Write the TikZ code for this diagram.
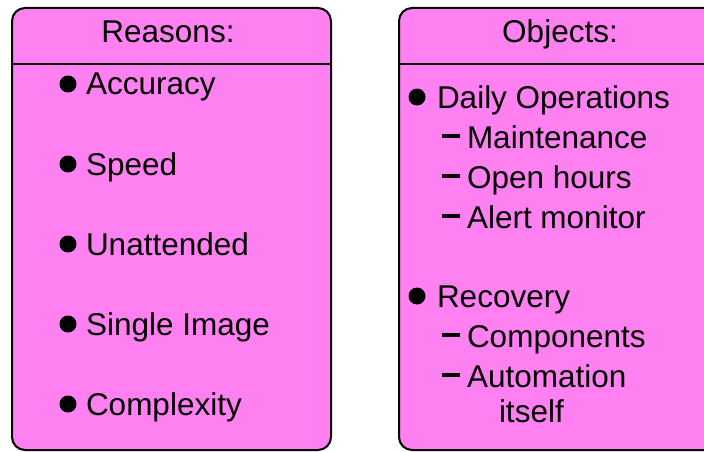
\documentclass[tikz,border=0pt]{standalone}
\usepackage{fontspec}
\setmainfont{Liberation Sans}
\usepackage{tikz}
\definecolor{panelpink}{RGB}{255,128,240}

\begin{document}
\begin{tikzpicture}[x=1pt,y=-1pt, line width=2pt]
                \tikzstyle{panel} = [draw=black, fill=panelpink, rounded corners=13pt]
                \tikzstyle{head} = [inner sep=0pt, anchor=base, font=\fontsize{31.5}{36}\selectfont]
                \tikzstyle{item} = [inner sep=0pt, anchor=base west, font=\fontsize{31.5}{36}\selectfont]

                \useasboundingbox (0,0) rectangle (704,452);
                \clip (0,0) rectangle (704,452);

                % Sol panel
                \draw[panel] (12,8) rectangle (331,450);
                \coordinate (lsplitw) at (12,64);
                \coordinate (lsplite) at (331,64);
                \draw (lsplitw) -- (lsplite);
                \node[head] (reasons) at (168,43) {Reasons:};

                % Sol maddeler
                \foreach \y/\t [count=\i] in {95/Accuracy, 175/Speed, 255/Unattended, 335/Single Image, 415/Complexity}
                {
                    \node[item] (r\i) at (85,\y) {\t};
                    \fill[black] (68,\y-11) circle (8.5pt);
                }

                % Sag panel
                \draw[panel] (399,8) rectangle (719,450);
                \coordinate (rsplitw) at (399,64);
                \coordinate (rsplite) at (719,64);
                \draw (rsplitw) -- (rsplite);
                \node[head] (objects) at (560,43) {Objects:};

                % Sag ana maddeler
                \node[item] (daily) at (436,108) {Daily Operations};
                \node[item] (recovery) at (436,307) {Recovery};
                \fill[black] (417,97) circle (8.5pt);
                \fill[black] (417,296) circle (8.5pt);

                % Sag alt maddeler
                \foreach \y/\t [count=\i] in {148/Maintenance, 188/Open hours, 228/Alert monitor, 347/Components, 387/Automation}
                {
                    \node[item] (o\i) at (466,\y) {\t};
                    \draw[line width=3.5pt] (442,\y-12) -- (460,\y-12);
                }
                \node[item] (itself) at (498,422) {itself};
            \end{tikzpicture}
\end{document}
